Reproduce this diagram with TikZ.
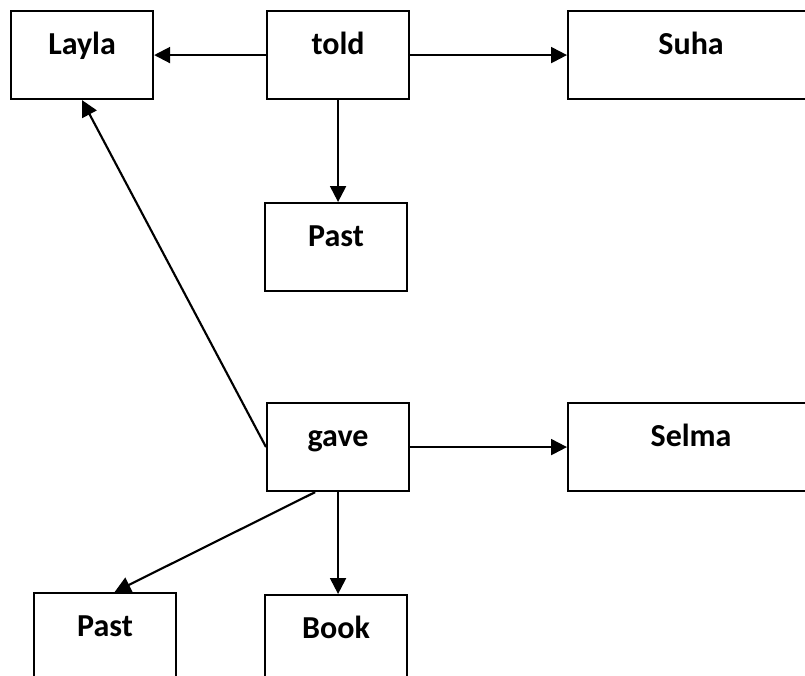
\documentclass[tikz,border=0pt]{standalone}
\usepackage{fontspec}
\setmainfont{Carlito}
\usepackage{tikz}
\usetikzlibrary{arrows.meta}

\tikzset{
  wordbox/.style={draw, line width=1.6pt, rectangle, anchor=north west,
    inner xsep=0pt, inner ysep=0pt, minimum width=106.5pt,
    text height=32.25pt, text depth=33.75pt,
    font=\fontsize{24}{28}\selectfont\bfseries},
  widebox/.style={wordbox, minimum width=184.5pt},
  link/.style={line width=1.6pt, -{Triangle[length=12pt,width=12pt]}}
}

\begin{document}
\begin{tikzpicture}[x=0.75pt,y=0.75pt,yscale=-1,xscale=1]
%set diagram size to the page
\useasboundingbox (0,0) rectangle (805,675);

%Shape: Rectangle [Layla]
\node [wordbox] (layla) at (10,10) {Layla};
%Shape: Rectangle [told]
\node [wordbox] (told) at (266,10) {told};
%Shape: Rectangle [Suha]
\node [widebox] (suha) at (567,10) {Suha};
%Shape: Rectangle [Past, upper]
\node [wordbox] (pastA) at (264,202) {Past};
%Shape: Rectangle [gave]
\node [wordbox] (gave) at (266,402) {gave};
%Shape: Rectangle [Selma]
\node [widebox] (selma) at (567,402) {Selma};
%Shape: Rectangle [Past, lower]
\node [wordbox] (pastB) at (33,592) {Past};
%Shape: Rectangle [Book]
\node [wordbox] (book) at (264,594) {Book};

%Straight Lines
\draw [link] (told.west) -- (layla.east);
\draw [link] (told.east) -- (suha.west);
\draw [link] (told.south) -- (told.south |- pastA.north);
%Straight Lines
\draw [link] (gave.west) -- (layla.south);
\draw [link] (gave.east) -- (selma.west);
\draw [link] (gave.243) -- (pastB.78);
\draw [link] (gave.south) -- (gave.south |- book.north);

\end{tikzpicture}
\end{document}
